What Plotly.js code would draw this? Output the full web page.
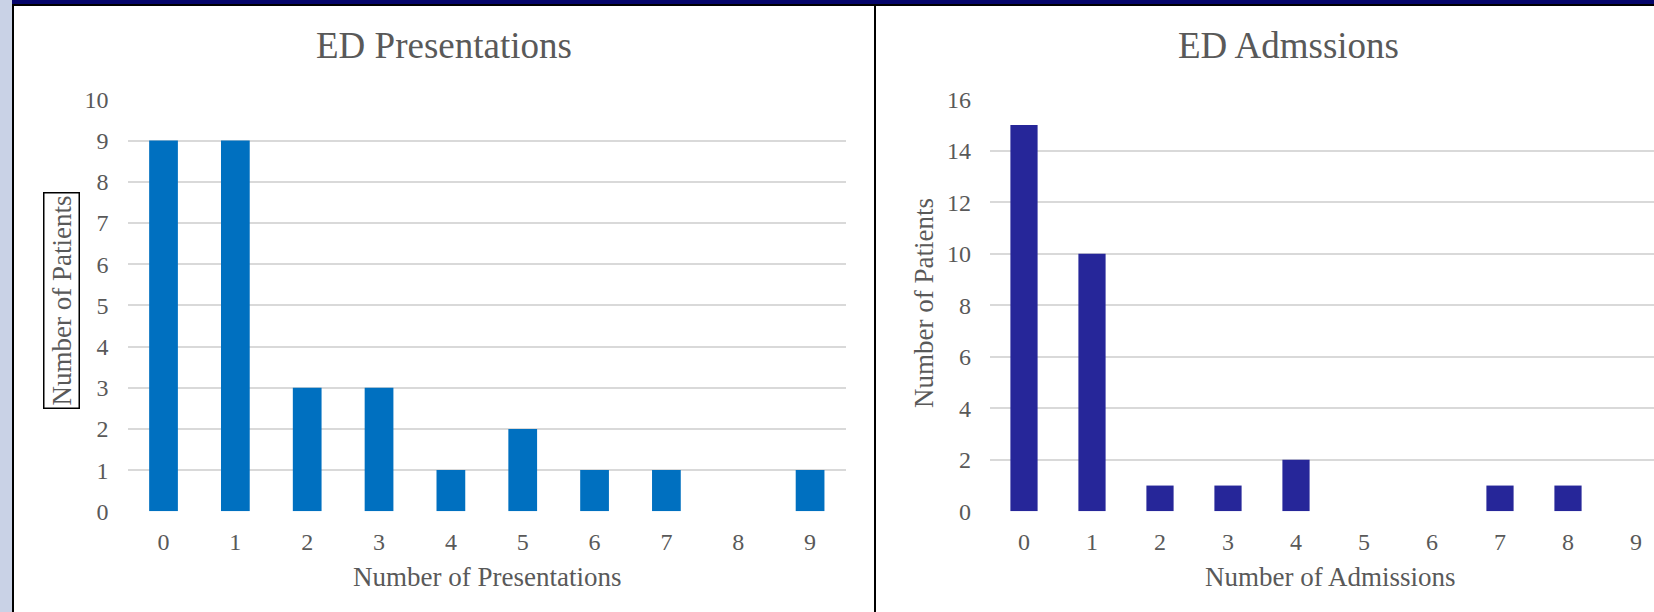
<!DOCTYPE html>
<html>
<head>
<meta charset="utf-8">
<script src="https://cdn.plot.ly/plotly-3.0.1.min.js"></script>
<style>
  html, body { margin: 0; padding: 0; overflow: hidden; background: #ffffff; }
  #chart { width: 1680px; height: 612px; }
</style>
</head>
<body>
<div id="chart"></div>
<script>
// Category labels shared by both histograms
const visitCounts = [0, 1, 2, 3, 4, 5, 6, 7, 8, 9];
const tickLabels = ['0', '1', '2', '3', '4', '5', '6', '7', '8', '9'];

// Patients by number of ED presentations
const presentationPatients = [9, 9, 3, 3, 1, 2, 1, 1, 0, 1];
// Patients by number of ED admissions
const admissionPatients = [15, 10, 1, 1, 2, 0, 0, 1, 1, 0];

const W = 1680, H = 612;
const px = v => v / W;          // horizontal pixel -> paper fraction
const py = v => 1 - v / H;      // vertical pixel (from top) -> paper fraction

const FONT = 'Liberation Serif, Times New Roman, serif';
const GREY = '#595959';
const GRID = '#d9d9d9';

const traces = [
  {
    type: 'bar', x: visitCounts, y: presentationPatients,
    xaxis: 'x', yaxis: 'y',
    marker: { color: '#0070c0' },
    hoverinfo: 'x+y'
  },
  {
    type: 'bar', x: visitCounts, y: admissionPatients,
    xaxis: 'x2', yaxis: 'y2',
    marker: { color: '#262699' },
    hoverinfo: 'x+y'
  }
];

const xCommon = {
  range: [-0.5, 9.5],
  tickvals: visitCounts,
  ticktext: tickLabels,
  showgrid: false,
  zeroline: false,
  showline: false,
  ticks: '',
  ticklabelstandoff: 14,
  tickfont: { family: FONT, size: 24, color: GREY },
  fixedrange: true
};
const yCommon = {
  showgrid: true,
  gridcolor: GRID,
  gridwidth: 2,
  zeroline: false,
  showline: false,
  ticks: '',
  ticklabelstandoff: 18,
  tickfont: { family: FONT, size: 24, color: GREY },
  fixedrange: true
};

const yTop = py(99.3), yBottom = py(511.3);

const layout = {
  width: W, height: H,
  margin: { l: 0, r: 0, t: 0, b: 0, pad: 0 },
  paper_bgcolor: '#ffffff',
  plot_bgcolor: 'rgba(0,0,0,0)',
  showlegend: false,
  bargap: 0.6,
  xaxis: Object.assign({}, xCommon, { domain: [px(127.6), px(846)], anchor: 'y' }),
  yaxis: Object.assign({}, yCommon, { domain: [yBottom, yTop], range: [0, 10], dtick: 1, anchor: 'x' }),
  xaxis2: Object.assign({}, xCommon, { domain: [px(990), px(1670)], anchor: 'y2' }),
  yaxis2: Object.assign({}, yCommon, { domain: [yBottom, yTop], range: [0, 16], dtick: 2, anchor: 'x2' }),
  shapes: [
    // left edge strip
    { type: 'rect', xref: 'paper', yref: 'paper', x0: 0, x1: px(12), y0: 0, y1: 1,
      fillcolor: '#c9d2e6', line: { width: 0 }, layer: 'below' },
    // navy band along the top
    { type: 'rect', xref: 'paper', yref: 'paper', x0: px(12), x1: 1, y0: py(4), y1: 1,
      fillcolor: '#05056b', line: { width: 0 }, layer: 'below' },
    // black rule under the band
    { type: 'rect', xref: 'paper', yref: 'paper', x0: px(12), x1: 1, y0: py(6), y1: py(4),
      fillcolor: '#000000', line: { width: 0 }, layer: 'below' },
    // left frame line
    { type: 'rect', xref: 'paper', yref: 'paper', x0: px(12), x1: px(14), y0: 0, y1: py(4),
      fillcolor: '#000000', line: { width: 0 }, layer: 'below' },
    // divider between the two panels
    { type: 'rect', xref: 'paper', yref: 'paper', x0: px(874), x1: px(876), y0: 0, y1: py(4),
      fillcolor: '#000000', line: { width: 0 }, layer: 'below' }
  ],
  annotations: [
    { text: 'ED Presentations', xref: 'paper', yref: 'paper', x: px(443.5), y: py(46),
      xanchor: 'center', yanchor: 'middle', showarrow: false,
      font: { family: FONT, size: 37, color: GREY } },
    { text: 'ED Admssions', xref: 'paper', yref: 'paper', x: px(1288), y: py(46),
      xanchor: 'center', yanchor: 'middle', showarrow: false,
      font: { family: FONT, size: 37, color: GREY } },
    { text: 'Number of Presentations', xref: 'paper', yref: 'paper', x: px(487), y: py(577),
      xanchor: 'center', yanchor: 'middle', showarrow: false,
      font: { family: FONT, size: 27, color: GREY } },
    { text: 'Number of Admissions', xref: 'paper', yref: 'paper', x: px(1330), y: py(577),
      xanchor: 'center', yanchor: 'middle', showarrow: false,
      font: { family: FONT, size: 27, color: GREY } },
    { text: 'Number of Patients', xref: 'paper', yref: 'paper', x: px(61), y: py(301),
      xanchor: 'center', yanchor: 'middle', showarrow: false, textangle: -90,
      bordercolor: '#000000', borderwidth: 1.5, borderpad: 2,
      font: { family: FONT, size: 27, color: GREY } },
    { text: 'Number of Patients', xref: 'paper', yref: 'paper', x: px(924), y: py(303),
      xanchor: 'center', yanchor: 'middle', showarrow: false, textangle: -90,
      font: { family: FONT, size: 27, color: GREY } }
  ]
};

Plotly.newPlot('chart', traces, layout, { staticPlot: true, displayModeBar: false });
</script>
</body>
</html>
